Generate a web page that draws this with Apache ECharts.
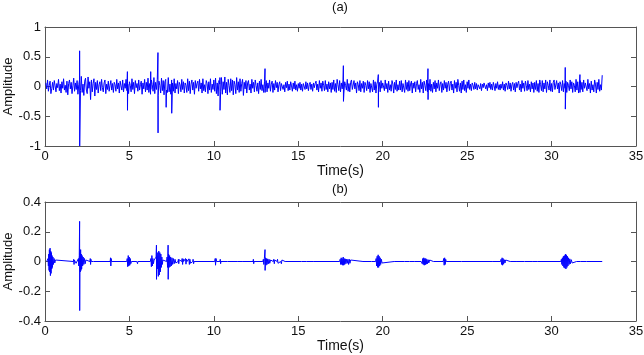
<!DOCTYPE html>
<html>
<head>
<meta charset="utf-8">
<script src="https://cdn.jsdelivr.net/npm/echarts@6/dist/echarts.min.js"></script>
<style>
html, body { margin: 0; padding: 0; background: #fff; }
#chart { width: 644px; height: 355px; }
</style>
</head>
<body>
<div id="chart"></div>
<script>
// (a) raw signal, sampled every 0.05 s starting at 0.05 s (one row = one second)
const startA = 0.05;
const stepA = 0.05;
const ampA = [
  0.06,-0.04,0.11,-0.08,0.02,0.09,-0.12,-0.03,0.07,-0.06,0.10,0.01,-0.09,0.05,-0.02,0.12,-0.07,0.04,-0.11,0.08,
  -0.03,0.13,-0.06,0.02,-0.10,0.09,-0.14,0.05,0.11,-0.04,0.07,-0.12,0.01,0.14,-0.08,0.06,-0.05,0.10,-0.13,0.03,
  0.12,-0.07,0.17,-0.10,0.04,-0.15,0.09,0.14,-0.06,-0.12,0.16,-0.03,0.08,-0.22,0.11,-0.09,0.05,0.13,-0.16,0.07,
  -0.05,0.10,-0.11,0.03,0.08,-0.07,0.12,-0.02,-0.09,0.06,0.11,-0.12,0.04,-0.05,0.09,-0.08,0.02,0.10,-0.06,0.05,
  -0.10,0.07,0.03,-0.08,0.12,-0.04,0.06,-0.11,0.09,0.01,-0.06,0.11,-0.09,0.05,-0.03,0.12,-0.07,0.04,-0.12,0.08,
  0.02,-0.09,0.13,-0.05,0.07,-0.12,0.10,-0.02,0.05,-0.08,0.11,-0.06,0.03,0.09,-0.13,0.06,-0.04,0.12,-0.09,0.07,
  -0.06,0.14,-0.10,0.05,-0.13,0.11,0.03,-0.08,0.15,-0.12,0.07,-0.05,0.12,-0.15,0.09,0.02,-0.11,0.14,-0.07,0.10,
  -0.14,0.08,0.12,-0.06,-0.10,0.15,-0.09,0.04,-0.13,0.11,0.06,-0.08,0.13,-0.11,0.05,-0.04,0.10,-0.12,0.07,0.03,
  -0.09,0.12,-0.05,0.08,-0.11,0.06,0.02,-0.10,0.13,-0.07,0.09,-0.12,0.04,0.11,-0.06,0.07,-0.13,0.10,-0.03,0.05,
  0.09,-0.08,0.12,-0.04,0.06,-0.11,0.13,-0.07,0.03,-0.09,0.10,0.05,-0.12,0.08,-0.06,0.13,-0.10,0.04,-0.05,0.11,
  -0.08,0.14,-0.12,0.06,-0.16,0.10,0.04,-0.09,0.15,-0.13,0.08,-0.05,0.16,-0.11,0.07,-0.14,0.12,0.02,-0.10,0.13,
  -0.07,0.11,-0.14,0.09,0.03,-0.12,0.15,-0.06,0.08,-0.10,0.13,-0.08,0.05,0.12,-0.15,0.07,-0.04,0.10,-0.11,0.06,
  0.10,-0.06,0.04,-0.11,0.12,-0.03,0.07,-0.09,0.11,0.02,-0.08,0.06,-0.12,0.09,-0.05,0.12,-0.07,0.03,-0.10,0.08,
  -0.04,0.10,-0.09,0.06,-0.03,0.11,-0.08,0.04,0.09,-0.10,0.05,-0.06,0.10,-0.02,0.07,-0.09,0.03,0.08,-0.07,0.05,
  0.08,-0.05,0.03,-0.09,0.07,-0.02,0.09,-0.07,0.04,-0.06,0.08,0.01,-0.08,0.06,-0.04,0.09,-0.06,0.03,-0.08,0.05,
  -0.03,0.07,-0.06,0.04,-0.08,0.05,0.02,-0.05,0.08,-0.04,0.06,-0.07,0.03,0.07,-0.05,0.04,-0.08,0.06,-0.02,0.05,
  0.09,-0.06,0.04,-0.09,0.10,-0.03,0.06,-0.08,0.09,0.02,-0.07,0.10,-0.05,0.04,-0.09,0.08,-0.04,0.06,-0.10,0.07,
  -0.05,0.11,-0.08,0.05,-0.10,0.12,0.03,-0.07,0.10,-0.09,0.06,-0.04,0.11,-0.11,0.08,0.02,-0.06,0.12,-0.08,0.05,
  -0.09,0.07,0.11,-0.05,-0.08,0.10,-0.04,0.06,-0.11,0.08,0.03,-0.07,0.10,-0.09,0.05,-0.03,0.09,-0.10,0.07,0.02,
  -0.07,0.10,-0.04,0.08,-0.10,0.05,0.02,-0.09,0.11,-0.06,0.08,-0.11,0.04,0.09,-0.05,0.07,-0.09,0.10,-0.03,0.06,
  0.08,-0.07,0.11,-0.04,0.05,-0.10,0.09,-0.06,0.03,-0.08,0.10,0.04,-0.11,0.07,-0.05,0.11,-0.08,0.03,-0.06,0.09,
  -0.06,0.10,-0.09,0.05,0.02,-0.10,0.11,-0.05,0.07,-0.08,0.10,-0.07,0.04,0.09,-0.11,0.06,-0.03,0.08,-0.09,0.05,
  0.10,-0.05,0.03,-0.10,0.12,-0.04,0.07,-0.11,0.09,0.02,-0.07,0.11,-0.09,0.05,-0.06,0.12,-0.08,0.04,-0.10,0.07,
  -0.04,0.10,-0.09,0.06,-0.03,0.11,-0.07,0.04,0.08,-0.10,0.05,-0.06,0.10,-0.03,0.07,-0.09,0.04,0.09,-0.07,0.05,
  0.09,-0.06,0.04,-0.11,0.10,-0.03,0.07,-0.09,0.12,0.02,-0.08,0.06,-0.11,0.09,-0.05,0.11,-0.07,0.03,-0.10,0.08,
  -0.03,0.11,-0.05,0.04,-0.07,0.06,0.02,-0.05,0.07,-0.04,0.05,-0.06,0.03,0.06,-0.04,0.05,-0.07,0.04,-0.02,0.06,
  0.05,-0.04,0.03,-0.07,0.06,-0.02,0.07,-0.05,0.04,-0.06,0.07,0.01,-0.07,0.05,-0.03,0.08,-0.05,0.03,-0.06,0.04,
  -0.03,0.08,-0.06,0.04,-0.08,0.06,0.02,-0.05,0.09,-0.04,0.06,-0.08,0.03,0.07,-0.06,0.05,-0.09,0.07,-0.02,0.05,
  0.09,-0.06,0.04,-0.09,0.10,-0.03,0.06,-0.08,0.09,0.02,-0.07,0.10,-0.05,0.04,-0.09,0.08,-0.04,0.06,-0.10,0.07,
  -0.05,0.10,-0.08,0.05,-0.10,0.11,0.03,-0.07,0.10,-0.09,0.06,-0.04,0.11,-0.10,0.08,0.02,-0.06,0.11,-0.08,0.05,
  -0.09,0.07,0.11,-0.05,-0.08,0.10,-0.04,0.06,-0.11,0.08,0.03,-0.07,0.10,-0.09,0.05,-0.03,0.09,-0.10,0.07,0.02,
  -0.07,0.11,-0.04,0.08,-0.10,0.06,0.02,-0.09,0.12,-0.06,0.08,-0.11,0.04,0.10,-0.05,0.07,-0.09,0.11,-0.03,0.06,
  0.08,-0.07,0.12,-0.04,0.05,-0.11,0.09,-0.06,0.03,-0.09,0.11,0.04,-0.11,0.07,-0.05,0.12,-0.08,0.03,-0.06,0.19
];
// (a) impulsive spikes: time, top, bottom
const spikeT  = [2.05, 4.88, 6.26, 6.69, 7.17, 7.50, 10.36, 13.03, 17.67, 19.74, 22.68, 30.81, 31.68];
const spikeHi = [0.60, 0.25, 0.25, 0.57, 0.15, 0.10, 0.15, 0.30, 0.35, 0.20, 0.30, 0.32, 0.20];
const spikeLo = [-1.00, -0.40, -0.05, -0.78, -0.35, -0.45, -0.40, -0.10, -0.25, -0.35, -0.22, -0.38, -0.10];

// (b) denoised signal: [time, amplitude]
const signalB = [
  [0.10,0],[0.18,0.02],[0.20,-0.03],[0.22,0.05],[0.24,-0.06],[0.26,0.08],[0.28,-0.07],[0.30,0.09],[0.32,-0.095],[0.34,0.07],
  [0.36,-0.08],[0.38,0.06],[0.40,-0.05],[0.42,0.04],[0.44,-0.04],[0.47,0.03],[0.50,-0.02],[0.54,0.02],[0.58,-0.01],[0.62,0.01],[0.66,0],
  [1.68,0],[1.70,0.015],[1.72,-0.02],[1.74,0.01],[1.76,0],
  [1.80,0],[1.82,0.01],[1.84,-0.012],[1.86,0],
  [1.95,0],[1.98,0.02],[2.00,-0.03],[2.03,0.04],[2.05,0.27],[2.055,-0.33],[2.07,0.06],[2.09,-0.07],[2.11,0.08],[2.13,-0.06],
  [2.15,0.05],[2.17,-0.05],[2.20,0.04],[2.23,-0.03],[2.26,0.03],[2.30,-0.02],[2.34,0.02],[2.38,-0.015],[2.42,0.01],[2.46,0],
  [2.66,0],[2.68,0.02],[2.70,-0.02],[2.72,0.015],[2.74,0],
  [2.88,0],[2.90,0.012],[2.92,-0.012],[2.94,0],
  [3.86,0],[3.88,0.025],[3.90,-0.03],[3.92,0.02],[3.94,0],
  [4.84,0],[4.87,0.02],[4.90,-0.035],[4.93,0.04],[4.96,-0.03],[4.99,0.03],[5.02,-0.025],[5.05,0.02],[5.08,-0.015],[5.12,0],
  [5.44,0],[5.46,0.012],[5.48,-0.015],[5.50,0],
  [6.24,0],[6.27,0.02],[6.30,-0.035],[6.33,0.04],[6.36,-0.03],[6.39,0.02],[6.42,-0.015],[6.46,0.01],[6.50,0],
  [6.56,0],[6.58,0.03],[6.60,0.11],[6.605,-0.12],[6.62,0.04],[6.65,-0.05],[6.68,0.06],[6.71,-0.10],[6.74,0.07],[6.77,-0.09],
  [6.80,0.06],[6.83,-0.07],[6.86,0.05],[6.89,-0.04],[6.92,0.03],[6.95,-0.02],[6.98,0.01],[7.02,0],
  [7.20,0],[7.23,0.03],[7.26,-0.04],[7.29,0.11],[7.295,-0.12],[7.32,0.05],[7.35,-0.04],[7.38,0.04],[7.41,-0.035],[7.44,0.03],
  [7.48,-0.03],[7.52,0.025],[7.56,-0.02],[7.60,0.02],[7.65,-0.015],[7.70,0.015],[7.75,-0.01],[7.80,0],
  [7.88,0],[7.90,0.015],[7.92,-0.015],[7.95,0.012],[7.98,0],
  [8.10,0],[8.12,0.02],[8.15,-0.02],[8.18,0.018],[8.21,0],
  [8.30,0],[8.32,0.02],[8.35,-0.018],[8.38,0.015],[8.41,0],
  [8.50,0],[8.52,0.018],[8.55,-0.02],[8.58,0.015],[8.62,-0.012],[8.66,0],
  [8.75,0],[8.77,0.015],[8.80,-0.015],[8.83,0],
  [10.05,0],[10.08,0.02],[10.10,-0.025],[10.13,0.02],[10.16,0],
  [10.36,0],[10.38,0.015],[10.40,-0.015],[10.42,0],
  [10.80,0],[10.82,0.012],[10.84,-0.012],[10.86,0],
  [11.38,0],[11.40,0.01],[11.42,-0.01],[11.44,0],
  [11.72,0],[11.74,0.012],[11.76,-0.012],[11.78,0],
  [12.32,0],[12.34,0.015],[12.36,-0.015],[12.38,0],
  [12.90,0],[12.93,0.015],[12.96,-0.02],[12.99,0.02],[13.03,0.08],[13.035,-0.06],[13.06,0.025],[13.09,-0.025],[13.12,0.02],
  [13.15,-0.02],[13.19,0.018],[13.23,-0.015],[13.27,0.015],[13.31,-0.012],[13.36,0.01],[13.40,0],
  [13.52,0],[13.55,0.015],[13.58,-0.015],[13.61,0.01],[13.64,0],
  [13.75,0],[13.77,0.015],[13.80,-0.012],[13.83,0],
  [13.95,0],[13.97,0.012],[14.00,-0.015],[14.03,0.01],[14.06,0],
  [14.22,0],[14.24,0.01],[14.26,-0.01],[14.28,0],
  [15.18,0],[15.20,0.01],[15.22,-0.01],[15.24,0],
  [15.50,0],[15.52,0.01],[15.54,-0.012],[15.56,0],
  [15.88,0],[15.90,0.01],[15.92,-0.01],[15.94,0],
  [17.45,0],[17.48,0.015],[17.51,-0.02],[17.54,0.025],[17.57,-0.02],[17.60,0.02],[17.63,-0.025],[17.66,0.03],[17.69,-0.025],
  [17.72,0.02],[17.75,-0.02],[17.78,0.018],[17.82,-0.015],[17.86,0.015],[17.90,-0.012],[17.94,0.015],[17.98,-0.02],
  [18.02,0.015],[18.06,-0.012],[18.10,0.01],[18.15,0],
  [18.83,0],[18.85,0.01],[18.87,-0.01],[18.89,0],
  [19.33,0],[19.35,0.01],[19.37,-0.012],[19.39,0],
  [19.58,0],[19.61,0.02],[19.64,-0.03],[19.67,0.035],[19.70,-0.04],[19.73,0.045],[19.76,-0.04],[19.79,0.035],[19.82,-0.03],
  [19.85,0.025],[19.88,-0.02],[19.92,0.015],[19.96,-0.01],[20.00,0],
  [20.68,0],[20.70,0.01],[20.72,-0.01],[20.74,0],
  [21.28,0],[21.30,0.01],[21.32,-0.01],[21.34,0],
  [21.58,0],[21.60,0.012],[21.62,-0.01],[21.64,0],
  [21.90,0],[21.92,0.01],[21.94,-0.012],[21.96,0],
  [22.28,0],[22.31,0.012],[22.34,-0.015],[22.37,0.02],[22.40,-0.02],[22.43,0.025],[22.46,-0.025],[22.49,0.02],[22.52,-0.022],
  [22.55,0.02],[22.58,-0.018],[22.61,0.015],[22.65,-0.015],[22.69,0.012],[22.73,-0.01],[22.78,0.01],[22.83,0],
  [23.00,0],[23.02,0.01],[23.04,-0.01],[23.06,0],
  [23.58,0],[23.61,0.02],[23.64,-0.025],[23.67,0.025],[23.70,-0.02],[23.73,0.015],[23.76,0],
  [24.68,0],[24.70,0.01],[24.72,-0.01],[24.74,0],
  [26.48,0],[26.50,0.012],[26.52,-0.01],[26.54,0],
  [26.98,0],[27.01,0.015],[27.04,-0.02],[27.07,0.025],[27.10,-0.025],[27.13,0.02],[27.16,-0.018],[27.20,0.012],[27.24,-0.01],
  [27.28,0.01],[27.32,0],
  [27.55,0],[27.57,0.01],[27.59,-0.01],[27.61,0],
  [27.95,0],[27.97,0.01],[27.99,-0.01],[28.01,0],
  [28.40,0],[28.42,0.01],[28.44,-0.01],[28.46,0],
  [28.85,0],[28.87,0.01],[28.89,-0.01],[28.91,0],
  [29.15,0],[29.17,0.01],[29.19,-0.01],[29.21,0],
  [30.55,0],[30.58,0.015],[30.61,-0.02],[30.64,0.025],[30.67,-0.03],[30.70,0.035],[30.73,-0.04],[30.76,0.04],[30.79,-0.045],
  [30.82,0.05],[30.85,-0.05],[30.88,0.045],[30.91,-0.04],[30.94,0.035],[30.97,-0.03],[31.00,0.025],[31.04,-0.02],[31.08,0.018],
  [31.12,-0.015],[31.17,0.012],[31.22,-0.01],[31.27,0],
  [31.48,0],[31.50,0.012],[31.53,-0.012],[31.56,0],
  [31.70,0],[31.72,0.01],[31.74,-0.012],[31.76,0],
  [32.08,0],[32.10,0.01],[32.12,-0.01],[32.14,0],
  [33.00,0]
];

// 合并 (a) 的采样和尖峰
const signalA = [];
let k = 0;
ampA.forEach((v, i) => {
  const t = +(startA + i * stepA).toFixed(3);
  while (k < spikeT.length && spikeT[k] < t) {
    signalA.push([spikeT[k], spikeHi[k]]);
    signalA.push([spikeT[k] + 0.005, spikeLo[k]]);
    k++;
  }
  signalA.push([t, v]);
});

const font = "'Liberation Sans', Arial, sans-serif";
const axisColor = "#555";
const textColor = "#111";

function xAxes(gridIndex) {
  return [
    {
      type: "value", gridIndex, position: "bottom",
      min: 0, max: 35, interval: 5,
      name: "Time(s)", nameLocation: "middle", nameGap: 17,
      nameTextStyle: { color: textColor, fontSize: 14, fontFamily: font },
      axisLine: { show: true, onZero: false, lineStyle: { color: axisColor } },
      axisTick: { inside: true, length: 5, lineStyle: { color: axisColor } },
      axisLabel: { color: textColor, fontSize: 13, fontFamily: font, margin: 4 },
      splitLine: { show: false },
    },
    {
      type: "value", gridIndex, position: "top",
      min: 0, max: 35, interval: 5,
      axisLine: { show: true, onZero: false, lineStyle: { color: axisColor } },
      axisTick: { inside: true, length: 5, lineStyle: { color: axisColor } },
      axisLabel: { show: false },
      splitLine: { show: false },
    },
  ];
}

function yAxes(gridIndex, lim, step) {
  return [
    {
      type: "value", gridIndex, position: "left",
      min: -lim, max: lim, interval: step,
      name: "Amplitude", nameLocation: "middle", nameGap: 30, nameRotate: 90,
      nameMoveOverlap: false,
      nameTextStyle: { color: textColor, fontSize: 13, fontFamily: font },
      axisLine: { show: true, onZero: false, lineStyle: { color: axisColor } },
      axisTick: { show: true, inside: true, length: 5, lineStyle: { color: axisColor } },
      axisLabel: { color: textColor, fontSize: 13, fontFamily: font, margin: 4 },
      splitLine: { show: false },
    },
    {
      type: "value", gridIndex, position: "right",
      min: -lim, max: lim, interval: step,
      axisLine: { show: true, onZero: false, lineStyle: { color: axisColor } },
      axisTick: { show: true, inside: true, length: 5, lineStyle: { color: axisColor } },
      axisLabel: { show: false },
      splitLine: { show: false },
    },
  ];
}

const chart = echarts.init(document.getElementById("chart"));
chart.setOption({
  animation: false,
  title: [
    { text: "(a)", left: 340, top: 1, padding: 0, textAlign: "center",
      textStyle: { color: textColor, fontSize: 13, fontWeight: "normal", fontFamily: font } },
    { text: "(b)", left: 340, top: 183, padding: 0, textAlign: "center",
      textStyle: { color: textColor, fontSize: 13, fontWeight: "normal", fontFamily: font } },
  ],
  grid: [
    { left: 45, right: 8, top: 27, height: 119, outerBoundsMode: "none", containLabel: false },
    { left: 45, right: 8, top: 202, height: 119, outerBoundsMode: "none", containLabel: false },
  ],
  xAxis: [...xAxes(0), ...xAxes(1)],
  yAxis: [...yAxes(0, 1, 0.5), ...yAxes(1, 0.4, 0.2)],
  series: [
    {
      name: "a", type: "line", xAxisIndex: 0, yAxisIndex: 0,
      data: signalA, symbol: "none",
      lineStyle: { color: "#0000ff", width: 1 },
    },
    {
      name: "b", type: "line", xAxisIndex: 2, yAxisIndex: 2,
      data: signalB, symbol: "none",
      lineStyle: { color: "#0000ff", width: 1 },
    },
  ],
});
</script>
</body>
</html>
